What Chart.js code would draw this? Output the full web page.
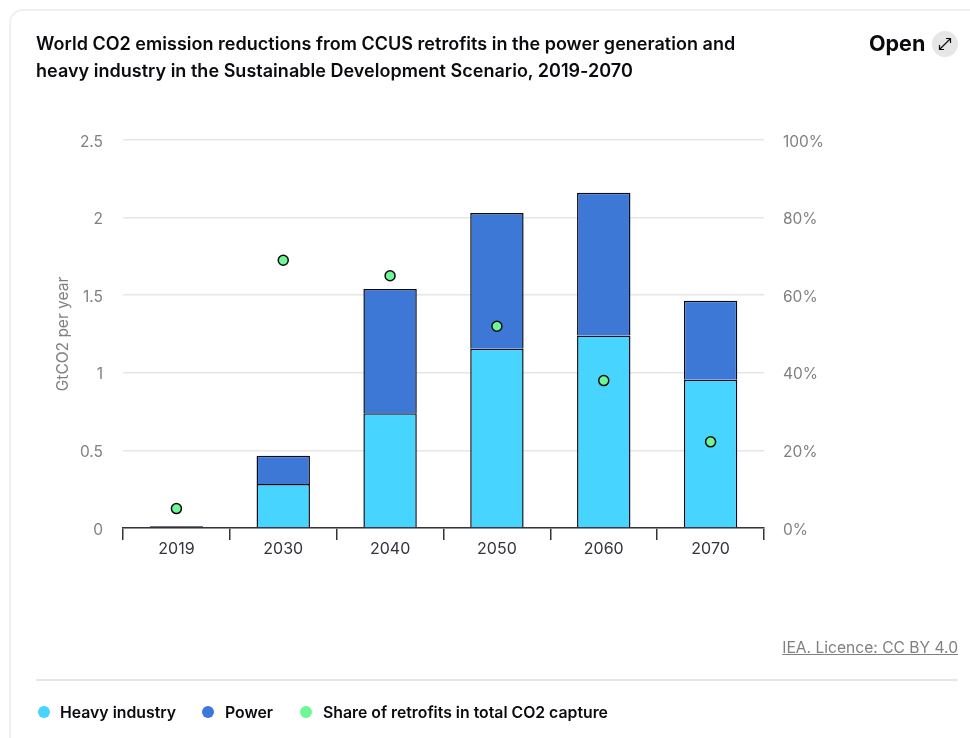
<!DOCTYPE html>
<html>
<head>
<meta charset="utf-8">
<script src="https://cdn.jsdelivr.net/npm/chart.js@4"></script>
<style>
  html, body { margin: 0; padding: 0; background: #fff; overflow: hidden; }
  body { width: 970px; height: 738px; position: relative; font-family: Inter, sans-serif; color: #0b0b0f; }
  #card { position: absolute; left: 9px; top: 9px; width: 1000px; height: 800px; box-sizing: border-box; border: 2px solid #f0f0f0; border-radius: 14px; }
  #chart { position: absolute; left: 0; top: 0; }
  #title { position: absolute; left: 36px; top: 30px; width: 800px; font-size: 18px; line-height: 27px; font-weight: 600; letter-spacing: 0.02px; white-space: nowrap; }
  #open { position: absolute; left: 869px; top: 30px; font-size: 21.5px; line-height: 26px; font-weight: 700; }
  #open-btn { position: absolute; left: 932px; top: 31px; width: 26px; height: 26px; border-radius: 50%; background: #e6e6e6; }
  #licence { position: absolute; right: 12px; top: 638px; font-size: 15.6px; line-height: 20px; color: #808080; text-decoration: underline; }
  #rule { position: absolute; left: 36px; top: 679px; width: 922px; height: 2px; background: #e6e6e6; }
  #legend { position: absolute; left: 0; top: 703px; height: 20px; font-size: 15.8px; line-height: 20px; font-weight: 600; }
  #legend span { position: absolute; white-space: nowrap; }
  #legend i { position: absolute; top: 3px; width: 12px; height: 12px; border-radius: 50%; }
</style>
</head>
<body>
<div id="card"></div>
<canvas id="chart" width="970" height="738"></canvas>
<div id="title">World CO2 emission reductions from CCUS retrofits in the power generation and<br>heavy industry in the Sustainable Development Scenario, 2019-2070</div>
<div id="open">Open</div>
<div id="open-btn">
  <svg width="26" height="26" viewBox="0 0 26 26" fill="none" stroke="#0b0b0f" stroke-width="1.2">
    <path d="M7.5 18.5 L18.5 7.5 M14 7.5 H18.5 V12 M7.5 14 V18.5 H12"/>
  </svg>
</div>
<div id="licence">IEA. Licence: CC BY 4.0</div>
<div id="rule"></div>
<div id="legend"></div>
<script>
const years = ["2019", "2030", "2040", "2050", "2060", "2070"];
const heavyIndustry = [0.012, 0.284, 0.74, 1.155, 1.24, 0.955];
const power = [0, 0.181, 0.80, 0.875, 0.92, 0.51];
const retrofitShare = [5, 69, 65, 52, 38, 22.2];
const leftTicks = ["0", "0.5", "1", "1.5", "2", "2.5"];
const rightTicks = ["0%", "20%", "40%", "60%", "80%", "100%"];

const chart = new Chart(document.getElementById("chart"), {
  type: "bar",
  data: {
    labels: years,
    datasets: [
      {
        type: "line",
        label: "Share of retrofits in total CO2 capture",
        data: retrofitShare,
        yAxisID: "yShare",
        showLine: false,
        backgroundColor: "#6ef797",
        borderColor: "#0b0b0f",
        pointRadius: 5,
        pointBorderWidth: 1.5,
        order: 0
      },
      {
        label: "Heavy industry",
        data: heavyIndustry,
        backgroundColor: "#47d4ff",
        borderColor: "#0b0e1a",
        borderWidth: 1.5,
        // the 2019 bar is only a sliver, so it is outlined all round and reads as a dark line
        borderSkipped: (ctx) => (ctx.dataIndex === 0 ? false : "start"),
        inflateAmount: 0,
        order: 1
      },
      {
        label: "Power",
        data: power,
        backgroundColor: "#3e78d6",
        borderColor: "#0b0e1a",
        borderWidth: 1.5,
        inflateAmount: 0,
        order: 1
      }
    ]
  },
  options: {
    responsive: false,
    animation: false,
    layout: { padding: { left: 54, right: 146, top: 140, bottom: 170 } },
    datasets: { bar: { barPercentage: 0.5, categoryPercentage: 1 } },
    plugins: { legend: { display: false }, tooltip: { enabled: false } },
    scales: {
      x: {
        stacked: true,
        afterFit: (s) => { s.height = 40; },
        border: { color: "#33343c", width: 1.5 },
        grid: { drawOnChartArea: false, color: "#33343c", lineWidth: 1.5, tickLength: 12, offset: true },
        ticks: { color: "#33343c", font: { family: "Inter", size: 16 }, padding: 0, maxRotation: 0 }
      },
      y: {
        stacked: true,
        min: 0,
        max: 2.5,
        afterFit: (s) => { s.width = 69; },
        border: { display: false },
        grid: { color: "#e6e6e6", lineWidth: 1.5, drawTicks: false },
        title: { display: true, text: "GtCO2 per year", color: "#808080", font: { family: "Inter", size: 15.5 }, padding: 0 },
        ticks: {
          stepSize: 0.5,
          padding: 20,
          labelOffset: 2,
          color: "#808080",
          font: { family: "Inter", size: 15.5 },
          callback: (v, i) => leftTicks[i]
        }
      },
      yShare: {
        position: "right",
        min: 0,
        max: 100,
        afterFit: (s) => { s.width = 60; },
        border: { display: false },
        grid: { display: false, drawTicks: false },
        ticks: {
          stepSize: 20,
          padding: 19,
          labelOffset: 2,
          color: "#808080",
          font: { family: "Inter", size: 15.5 },
          callback: (v, i) => rightTicks[i]
        }
      }
    }
  }
});

// legend row under the rule, in the order the series read
const legendSlots = [
  { dataset: 1, dot: 38, text: 60 },
  { dataset: 2, dot: 202, text: 225 },
  { dataset: 0, dot: 300, text: 323 }
];
const legend = document.getElementById("legend");
legendSlots.forEach((slot) => {
  const ds = chart.data.datasets[slot.dataset];
  const dot = document.createElement("i");
  dot.style.left = slot.dot + "px";
  dot.style.background = ds.backgroundColor;
  const name = document.createElement("span");
  name.style.left = slot.text + "px";
  name.textContent = ds.label;
  legend.append(dot, name);
});
</script>
</body>
</html>
